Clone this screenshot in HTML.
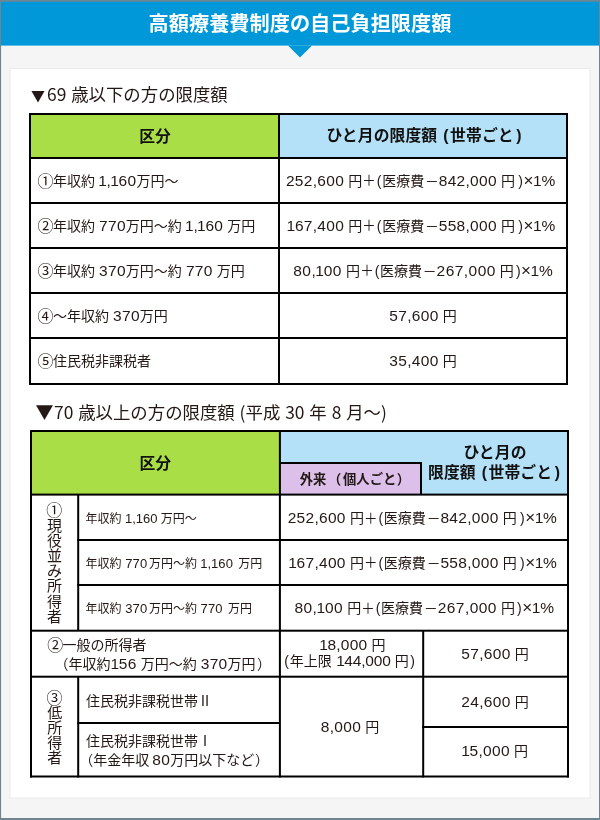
<!DOCTYPE html>
<html lang="ja"><head><meta charset="utf-8"><title>高額療養費制度の自己負担限度額</title>
<style>
html,body{margin:0;padding:0;}
body{width:600px;height:820px;position:relative;overflow:hidden;background:#f5f5f5;font-family:"Liberation Sans","Noto Sans CJK JP",sans-serif;color:#231815;}
svg{position:absolute;left:0;top:0;}
.t{position:absolute;white-space:nowrap;line-height:1;transform:translateY(-50%);}
.t.c{transform:translate(-50%,-50%);text-align:center;}
.title{font-size:20.2px;font-weight:700;color:#fff;font-family:"Noto Sans CJK JP",sans-serif;}
.h{font-size:17.4px;word-spacing:1px;font-family:"Noto Sans CJK JP",sans-serif;font-weight:400;}
.tri{display:inline-block;}
.th{font-size:15.8px;font-weight:700;letter-spacing:0.1px;color:#111;}
.th .ql{margin-left:1.5px;margin-right:1.5px;}
.th .qr{margin-left:2.5px;}
.th2{font-size:13.3px;font-weight:700;}
.td{font-size:14px;word-spacing:0.2px;}
.td .n{font-size:var(--ns,15.5px);letter-spacing:var(--ls,0.3px);}
.o{margin:0 -0.6px 0 -0.9px;}
.ql{margin-left:1px;margin-right:0.7px;}
.qr{margin-left:var(--qr,3.4px);}
.p{margin-left:0.1px;}
.ci{font-size:16px;margin-right:-0.6px;margin-left:0.4px;position:relative;top:0.5px;}
.x{margin-left:0.5px;margin-right:0.5px;}
.p{font-size:13.5px;position:relative;top:-0.5px;font-family:"Noto Sans CJK JP",sans-serif;}
.x{font-size:17px;}
.q{font-size:14px;}
.m{font-size:13.8px;margin-left:0.8px;}
.sm{font-size:12px;word-spacing:0.3px;}
.gc{display:inline-block;width:1.5px;}
.gd{display:inline-block;width:3px;}
.ga{display:inline-block;width:0.8px;}
.gb{display:inline-block;width:1.4px;}
.sm .o{margin:0 -0.2px;}
.sm .n{font-size:13px;letter-spacing:0.15px;margin-right:1.6px;}
.v{font-size:15px;}
</style></head><body>
<svg width="600" height="820" viewBox="0 0 600 820">
<rect x="0" y="0" width="600" height="820" fill="#f5f5f5"/>
<rect x="0" y="0" width="600" height="45.6" fill="#0098d8"/>
<polygon points="288,45.5 312,45.5 300,57.5" fill="#0098d8"/>
<rect x="9.5" y="68" width="581" height="730.5" fill="#ebebeb"/>
<rect x="10.5" y="69" width="579" height="728.5" fill="#ffffff"/>
<rect x="29" y="113" width="249" height="46" fill="#aade46"/>
<rect x="278" y="113" width="290" height="46" fill="#b4e1f7"/>
<rect x="29" y="113" width="539" height="2" fill="#000"/>
<rect x="29" y="157" width="539" height="2" fill="#000"/>
<rect x="29" y="202" width="539" height="2" fill="#000"/>
<rect x="29" y="247" width="539" height="2" fill="#000"/>
<rect x="29" y="292" width="539" height="2" fill="#000"/>
<rect x="29" y="337" width="539" height="2" fill="#000"/>
<rect x="29" y="383" width="539" height="2" fill="#000"/>
<rect x="29" y="113" width="2" height="272" fill="#000"/>
<rect x="566" y="113" width="2" height="272" fill="#000"/>
<rect x="278" y="113" width="2" height="272" fill="#000"/>
<rect x="30" y="430" width="249" height="64.6" fill="#aade46"/>
<rect x="279" y="430" width="290" height="64.6" fill="#b4e1f7"/>
<rect x="279" y="462" width="142" height="32.6" fill="#dcc0ea"/>
<rect x="30" y="430" width="539" height="2" fill="#000"/>
<rect x="30" y="493.6" width="539" height="2" fill="#000"/>
<rect x="77.2" y="539" width="491.8" height="2" fill="#000"/>
<rect x="77.2" y="584" width="491.8" height="2" fill="#000"/>
<rect x="30" y="629.7" width="539" height="2" fill="#000"/>
<rect x="30" y="675.7" width="539" height="2" fill="#000"/>
<rect x="77.2" y="722" width="201.8" height="2" fill="#000"/>
<rect x="422" y="726" width="147" height="2" fill="#000"/>
<rect x="30" y="775.5" width="539" height="2" fill="#000"/>
<rect x="30" y="430" width="2" height="347.5" fill="#000"/>
<rect x="567" y="430" width="2" height="347.5" fill="#000"/>
<rect x="278.9" y="430" width="2" height="347.5" fill="#000"/>
<rect x="77.2" y="494" width="2" height="136" fill="#000"/>
<rect x="77.2" y="676" width="2" height="101.5" fill="#000"/>
<rect x="422.2" y="630" width="2" height="147.5" fill="#000"/>
<rect x="279" y="462" width="143" height="2" fill="#000"/>
<rect x="420" y="462" width="2" height="33" fill="#000"/>
<rect x="0" y="0" width="600" height="1.7" fill="#6f8591"/>
<rect x="0" y="818" width="600" height="2" fill="#6f8591"/>
<rect x="0" y="0" width="1.1" height="820" fill="#6f8591"/>
<rect x="599" y="0" width="1" height="820" fill="#6f8591"/>
</svg>
<div class="t c title" style="left:300px;top:23.2px;">高額療養費制度の自己負担限度額</div>
<div class="t h" style="left:31px;top:94.3px;"><span class="tri" style="font-size:14px;margin-right:2px;position:relative;top:-0.8px">▼</span>69 歳以下の方の限度額</div>
<div class="t c th" style="left:155.1px;top:136.7px;">区分</div>
<div class="t c th" style="left:424px;top:135.6px;">ひと月の限度額 <span class="ql">(</span>世帯ごと<span class="qr">)</span></div>
<div class="t td" style="left:37.2px;top:181px;"><span class="ci">①</span>年収約 <span class="n"><span class="o">1</span>,<span class="o">1</span>60</span>万円〜</div>
<div class="t r td" style="right:44.5px;top:179.7px;"><span class="n">252,600</span> 円<span class="p">＋</span><span class="q ql">(</span>医療費<span class="m">－</span><span class="n">842,000</span> 円<span class="q qr">)</span><span class="x">×</span><span class="n"><span class="o">1</span>%</span></div>
<div class="t td" style="left:37.2px;top:226px;"><span class="ci">②</span>年収約 <span class="n">770</span>万円〜約 <span class="n"><span class="o">1</span>,<span class="o">1</span>60</span> 万円</div>
<div class="t r td" style="right:44.5px;top:224.7px;"><span class="n"><span class="o">1</span>67,400</span> 円<span class="p">＋</span><span class="q ql">(</span>医療費<span class="m">－</span><span class="n">558,000</span> 円<span class="q qr">)</span><span class="x">×</span><span class="n"><span class="o">1</span>%</span></div>
<div class="t td" style="left:37.2px;top:271px;"><span class="ci">③</span>年収約 <span class="n">370</span>万円〜約 <span class="n">770</span> 万円</div>
<div class="t r td" style="right:46.700000000000045px;top:269.7px;--ls:0.45px;--qr:2px;"><span class="n">80,<span class="o">1</span>00</span> 円<span class="p">＋</span><span class="q ql">(</span>医療費<span class="m">－</span><span class="n">267,000</span> 円<span class="q qr">)</span><span class="x">×</span><span class="n"><span class="o">1</span>%</span></div>
<div class="t td" style="left:37.2px;top:316px;"><span class="ci">④</span>〜年収約 <span class="n">370</span>万円</div>
<div class="t c td" style="left:423px;top:316px;"><span class="n">57,600</span> 円</div>
<div class="t td" style="left:37.2px;top:361px;"><span class="ci">⑤</span>住民税非課税者</div>
<div class="t c td" style="left:423px;top:361px;"><span class="n">35,400</span> 円</div>
<div class="t h" style="left:35.5px;top:411.3px;"><span class="tri" style="font-size:18px;margin-right:0.5px">▼</span>70 歳以上の方の限度額 (平成 30 年 8 月〜)</div>
<div class="t c th" style="left:155.3px;top:464px;">区分</div>
<div class="t th2" style="left:299.8px;top:480px;">外来<span style="margin:0 1.8px 0 1.6px">（</span>個人ごと<span style="margin-left:0.6px">）</span></div>
<div class="t c th" style="left:495px;top:453.4px;">ひと月の</div>
<div class="t c th" style="left:494px;top:472.6px;">限度額 <span class="ql">(</span>世帯ごと<span class="qr">)</span></div>
<div class="t sm" style="left:85.5px;top:518.3px;">年収約 <span class="n"><span class="o">1</span>,<span class="o">1</span>60</span><i class="gb"></i>万円〜</div>
<div class="t r td" style="right:42.799999999999955px;top:517.0px;"><span class="n">252,600</span> 円<span class="p">＋</span><span class="q ql">(</span>医療費<span class="m">－</span><span class="n">842,000</span> 円<span class="q qr">)</span><span class="x">×</span><span class="n"><span class="o">1</span>%</span></div>
<div class="t sm" style="left:85.5px;top:563px;">年収約 <span class="n">770</span>万円〜約 <span class="n"><span class="o">1</span>,<span class="o">1</span>60</span> 万円</div>
<div class="t r td" style="right:42.799999999999955px;top:561.7px;"><span class="n"><span class="o">1</span>67,400</span> 円<span class="p">＋</span><span class="q ql">(</span>医療費<span class="m">－</span><span class="n">558,000</span> 円<span class="q qr">)</span><span class="x">×</span><span class="n"><span class="o">1</span>%</span></div>
<div class="t sm" style="left:85.5px;top:608.3px;">年収約 <span class="n">370</span>万円〜約 <span class="n">770</span> 万円</div>
<div class="t r td" style="right:45.60000000000002px;top:607.0px;--ls:0.45px;--qr:2px;"><span class="n">80,<span class="o">1</span>00</span> 円<span class="p">＋</span><span class="q ql">(</span>医療費<span class="m">－</span><span class="n">267,000</span> 円<span class="q qr">)</span><span class="x">×</span><span class="n"><span class="o">1</span>%</span></div>
<div class="t td" style="left:46.8px;top:645.2px;"><span class="ci">②</span>一般の所得者</div>
<div class="t td" style="left:54.5px;top:664.3px;">（年収約<i class="ga"></i><span class="n"><span class="o">1</span>56</span> 万円〜約 <span class="n">370</span>万円<i class="gb"></i>）</div>
<div class="t c td" style="left:352.8px;top:645.3px;--ls:0.2px;"><span class="n"><span class="o">1</span>8,000</span> 円</div>
<div class="t c td" style="left:349.1px;top:661.3px;--ls:-0.15px;--qr:1.4px;"><span class="q ql">(</span>年上限<i class="gc"></i> <span class="n"><span class="o">1</span>44,000</span> 円<span class="q qr">)</span></div>
<div class="t c td" style="left:495px;top:654px;"><span class="n">57,600</span> 円</div>
<div class="t td" style="left:86px;top:700.7px;">住民税非課税世帯Ⅱ</div>
<div class="t td" style="left:86px;top:740.7px;">住民税非課税世帯Ⅰ</div>
<div class="t td" style="left:79.3px;top:760px;">（年金年収<i class="gd"></i><span class="n">80</span>万円以下など<i class="ga"></i>）</div>
<div class="t c td" style="left:350px;top:727px;"><span class="n">8,000</span> 円</div>
<div class="t c td" style="left:495px;top:702px;"><span class="n">24,600</span> 円</div>
<div class="t c td" style="left:495px;top:751px;"><span class="n"><span class="o">1</span>5,000</span> 円</div>
<div class="t c v" style="left:54.3px;top:511.3px;font-size:16px;">①</div>
<div class="t c v" style="left:54.5px;top:524.5px;">現</div>
<div class="t c v" style="left:54.5px;top:539.7px;">役</div>
<div class="t c v" style="left:54.5px;top:554.9px;">並</div>
<div class="t c v" style="left:54.5px;top:570.1px;">み</div>
<div class="t c v" style="left:54.5px;top:585.3px;">所</div>
<div class="t c v" style="left:54.5px;top:600.5px;">得</div>
<div class="t c v" style="left:54.5px;top:615.7px;">者</div>
<div class="t c v" style="left:54.5px;top:698.6px;font-size:16px;">③</div>
<div class="t c v" style="left:54.8px;top:711.6px;">低</div>
<div class="t c v" style="left:54.8px;top:726.65px;">所</div>
<div class="t c v" style="left:54.8px;top:741.7px;">得</div>
<div class="t c v" style="left:54.8px;top:756.75px;">者</div>
</body></html>
